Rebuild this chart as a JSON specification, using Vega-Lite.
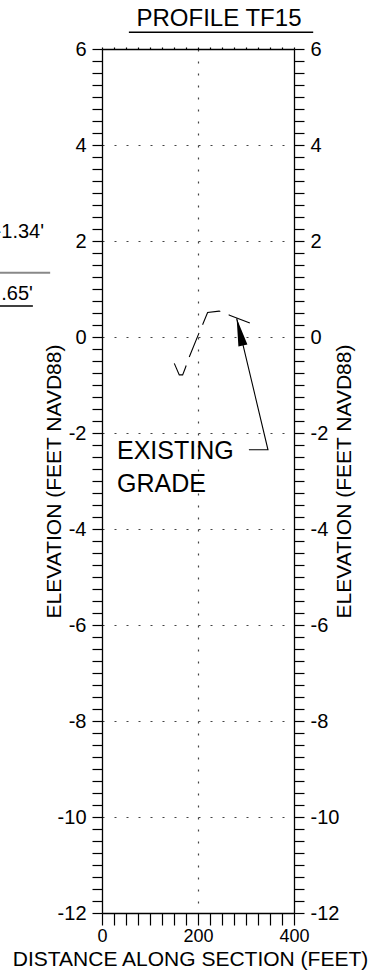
{
  "$schema": "https://vega.github.io/schema/vega-lite/v6.json",
  "width": 192,
  "height": 864,
  "autosize": {"type": "none"},
  "padding": {"left": 102, "top": 49, "right": 87, "bottom": 65},
  "background": "white",
  "title": {"text": "PROFILE TF15", "fontSize": 24, "font": "Liberation Sans", "fontWeight": "normal", "color": "black", "anchor": "middle", "frame": "group", "dx": 21, "offset": -19, "baseline": "alphabetic"},
  "config": {
    "view": {"stroke": null},
    "font": "Liberation Sans",
    "axis": {
      "labelFont": "Liberation Sans", "labelFontSize": 20, "labelColor": "black",
      "titleFont": "Liberation Sans", "titleFontSize": 21, "titleFontWeight": "normal", "titleColor": "black",
      "domainColor": "black", "domainWidth": 1.3, "tickColor": "black", "tickWidth": 1.2,
      "labelOverlap": false, "labelFlush": false,
      "gridDash": [2, 10], "gridColor": "#444444", "gridWidth": 1.2
    }
  },
  "resolve": {"axis": {"x": "independent", "y": "independent"}},
  "layer": [
    {
      "data": {"values": [
        {"d": 150.6, "e": -0.55}, {"d": 161, "e": -0.79}, {"d": 168, "e": -0.79}, {"d": 173, "e": -0.66},
        {"d": 182, "e": -0.41}, {"d": 202, "e": 0.08}, {"d": 211, "e": 0.29}, {"d": 220, "e": 0.51},
        {"d": 244, "e": 0.54}, {"d": 267, "e": 0.45}, {"d": 308, "e": 0.29}
      ]},
      "mark": {"type": "line", "color": "black", "strokeWidth": 1.1, "strokeDash": [26, 9]},
      "encoding": {
        "x": {"field": "d", "type": "quantitative", "scale": {"domain": [0, 400], "nice": false, "zero": false},
          "axis": {
            "orient": "bottom",
            "values": [0, 25, 50, 75, 100, 125, 150, 175, 200, 225, 250, 275, 300, 325, 350, 375, 400],
            "labelExpr": "datum.value % 200 === 0 ? '' + datum.value : ''",
            "title": "DISTANCE ALONG SECTION (FEET)",
            "tickSize": 12, "labelPadding": 2, "labelFontSize": 18, "titlePadding": 3, "titleX": 88,
            "grid": true,
            "gridOpacity": {"condition": {"test": "datum.value === 200", "value": 1}, "value": 0},
            "encode": {"ticks": {
              "y2": {"condition": {"test": "datum.value % 200 === 0", "value": 12}, "value": -2},
              "stroke": {"condition": {"test": "datum.value % 200 === 0", "value": "black"}, "value": "#777777"},
              "strokeWidth": {"condition": {"test": "datum.value % 200 === 0", "value": 1.2}, "value": 1}
            }}
          }},
        "y": {"field": "e", "type": "quantitative", "scale": {"domain": [-12, 6], "nice": false, "zero": false},
          "axis": {
            "orient": "left",
            "values": [-12,-11.75,-11.5,-11.25,-11,-10.75,-10.5,-10.25,-10,-9.75,-9.5,-9.25,-9,-8.75,-8.5,-8.25,-8,-7.75,-7.5,-7.25,-7,-6.75,-6.5,-6.25,-6,-5.75,-5.5,-5.25,-5,-4.75,-4.5,-4.25,-4,-3.75,-3.5,-3.25,-3,-2.75,-2.5,-2.25,-2,-1.75,-1.5,-1.25,-1,-0.75,-0.5,-0.25,0,0.25,0.5,0.75,1,1.25,1.5,1.75,2,2.25,2.5,2.75,3,3.25,3.5,3.75,4,4.25,4.5,4.75,5,5.25,5.5,5.75,6],
            "labelExpr": "datum.value % 2 === 0 ? '' + datum.value : ''",
            "title": "ELEVATION (FEET NAVD88)",
            "tickSize": 10, "labelPadding": 6, "titlePadding": -7,
            "grid": true,
            "gridOpacity": {"condition": {"test": "datum.value % 2 === 0 && datum.value > -12 && datum.value < 6", "value": 1}, "value": 0},
            "encode": {"ticks": {
              "x2": {"condition": {"test": "datum.value % 2 === 0", "value": -10}, "value": 2},
              "stroke": {"condition": {"test": "datum.value % 2 === 0", "value": "black"}, "value": "#777777"},
              "strokeWidth": {"condition": {"test": "datum.value % 2 === 0", "value": 1.2}, "value": 1}
            }}
          }}
      }
    },
    {
      "data": {"values": [
        {"o": 1, "d": 306, "e": -2.35}, {"o": 2, "d": 345.8, "e": -2.35}, {"o": 3, "d": 280.6, "e": 0.39}
      ]},
      "mark": {"type": "line", "color": "black", "strokeWidth": 1.1},
      "encoding": {
        "order": {"field": "o", "type": "quantitative"},
        "x": {"field": "d", "type": "quantitative", "scale": {"domain": [0, 400], "nice": false, "zero": false},
          "axis": {
            "orient": "top",
            "values": [0, 25, 50, 75, 100, 125, 150, 175, 200, 225, 250, 275, 300, 325, 350, 375, 400],
            "labels": false, "title": null, "grid": false, "tickSize": 2,
            "encode": {"ticks": {"y2": {"value": 2}, "stroke": {"value": "#777777"}, "strokeWidth": {"value": 1}}}
          }},
        "y": {"field": "e", "type": "quantitative", "scale": {"domain": [-12, 6], "nice": false, "zero": false},
          "axis": {
            "orient": "right",
            "values": [-12,-11.75,-11.5,-11.25,-11,-10.75,-10.5,-10.25,-10,-9.75,-9.5,-9.25,-9,-8.75,-8.5,-8.25,-8,-7.75,-7.5,-7.25,-7,-6.75,-6.5,-6.25,-6,-5.75,-5.5,-5.25,-5,-4.75,-4.5,-4.25,-4,-3.75,-3.5,-3.25,-3,-2.75,-2.5,-2.25,-2,-1.75,-1.5,-1.25,-1,-0.75,-0.5,-0.25,0,0.25,0.5,0.75,1,1.25,1.5,1.75,2,2.25,2.5,2.75,3,3.25,3.5,3.75,4,4.25,4.5,4.75,5,5.25,5.5,5.75,6],
            "labelExpr": "datum.value % 2 === 0 ? '' + datum.value : ''",
            "title": "ELEVATION (FEET NAVD88)", "titleAngle": 270, "titleBaseline": "top",
            "tickSize": 10, "labelPadding": 6, "titlePadding": -5, "grid": false,
            "encode": {"ticks": {
              "x2": {"condition": {"test": "datum.value % 2 === 0", "value": 10}, "value": -2},
              "stroke": {"condition": {"test": "datum.value % 2 === 0", "value": "black"}, "value": "#777777"},
              "strokeWidth": {"condition": {"test": "datum.value % 2 === 0", "value": 1.2}, "value": 1}
            }}
          }}
      }
    },
    {
      "data": {"values": [{"d": 287, "e": 0.106}]},
      "mark": {"type": "point", "shape": "M0,-1L0.33,1L-0.33,1Z", "size": 784, "angle": 347, "filled": true, "color": "black", "opacity": 1, "strokeWidth": 0},
      "encoding": {
        "x": {"field": "d", "type": "quantitative", "scale": {"domain": [0, 400], "nice": false, "zero": false}, "axis": null},
        "y": {"field": "e", "type": "quantitative", "scale": {"domain": [-12, 6], "nice": false, "zero": false}, "axis": null}
      }
    },
    {
      "data": {"values": [{"d": 31.25, "e": -2.548, "t": "EXISTING"}, {"d": 31.25, "e": -3.229, "t": "GRADE"}]},
      "mark": {"type": "text", "align": "left", "baseline": "alphabetic", "fontSize": 25, "font": "Liberation Sans", "color": "black"},
      "encoding": {
        "text": {"field": "t"},
        "x": {"field": "d", "type": "quantitative", "scale": {"domain": [0, 400], "nice": false, "zero": false}, "axis": null},
        "y": {"field": "e", "type": "quantitative", "scale": {"domain": [-12, 6], "nice": false, "zero": false}, "axis": null}
      }
    },
    {
      "data": {"values": [{"d": 56, "d2": 440, "e": 6.35}, {"d": -240, "d2": -144, "e": 0.646}]},
      "mark": {"type": "rule", "color": "black", "strokeWidth": 1.5},
      "encoding": {
        "x": {"field": "d", "type": "quantitative", "scale": {"domain": [0, 400], "nice": false, "zero": false}, "axis": null},
        "x2": {"field": "d2"},
        "y": {"field": "e", "type": "quantitative", "scale": {"domain": [-12, 6], "nice": false, "zero": false}, "axis": null}
      }
    },
    {
      "data": {"values": [{"d": -240, "d2": -108, "e": 1.34}]},
      "mark": {"type": "rule", "color": "#888888", "strokeWidth": 2},
      "encoding": {
        "x": {"field": "d", "type": "quantitative", "scale": {"domain": [0, 400], "nice": false, "zero": false}, "axis": null},
        "x2": {"field": "d2"},
        "y": {"field": "e", "type": "quantitative", "scale": {"domain": [-12, 6], "nice": false, "zero": false}, "axis": null}
      }
    },
    {
      "data": {"values": [{"d": -120.8, "e": 2.06, "t": "-1.34'"}, {"d": -144, "e": 0.77, "t": ".65'"}]},
      "mark": {"type": "text", "align": "right", "baseline": "alphabetic", "fontSize": 20, "font": "Liberation Sans", "color": "black"},
      "encoding": {
        "text": {"field": "t"},
        "x": {"field": "d", "type": "quantitative", "scale": {"domain": [0, 400], "nice": false, "zero": false}, "axis": null},
        "y": {"field": "e", "type": "quantitative", "scale": {"domain": [-12, 6], "nice": false, "zero": false}, "axis": null}
      }
    }
  ]
}
